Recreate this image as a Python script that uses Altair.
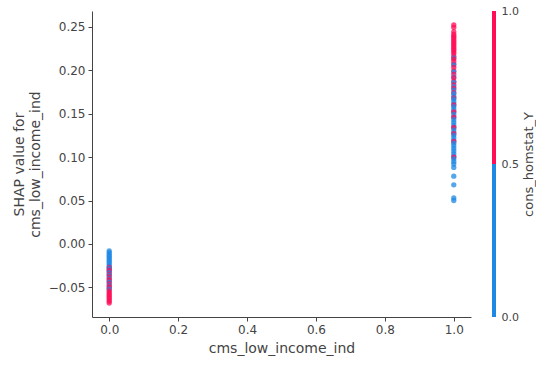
import altair as alt
import pandas as pd

# SHAP values for cms_low_income_ind == 1, split by cons_homstat_Y
x1_red = [0.252, 0.249, 0.244, 0.241, 0.239, 0.237, 0.235, 0.233, 0.231, 0.229,
          0.227, 0.225, 0.223, 0.221, 0.219, 0.216, 0.213, 0.210, 0.207, 0.203,
          0.199, 0.195, 0.191, 0.187, 0.183, 0.179, 0.174, 0.168, 0.160, 0.152,
          0.146, 0.134, 0.127, 0.118, 0.100]
x1_blue = [0.214, 0.206, 0.198, 0.192, 0.186, 0.181, 0.177, 0.173, 0.170, 0.167,
           0.164, 0.161, 0.158, 0.155, 0.152, 0.149, 0.146, 0.143, 0.140, 0.137,
           0.134, 0.131, 0.128, 0.125, 0.122, 0.119, 0.116, 0.113, 0.110, 0.107,
           0.104, 0.101, 0.098, 0.095, 0.092, 0.088, 0.078, 0.068, 0.053, 0.050]
# SHAP values for cms_low_income_ind == 0
x0_red = [-0.027, -0.030, -0.032, -0.035, -0.038, -0.041, -0.043, -0.046, -0.049,
          -0.051, -0.054, -0.056, -0.058, -0.060, -0.062, -0.064, -0.066, -0.068]
x0_blue = [-0.008, -0.010, -0.012, -0.014, -0.016, -0.018, -0.020, -0.022, -0.024,
           -0.026, -0.028, -0.030, -0.033, -0.036, -0.040, -0.044, -0.048, -0.052]

feature_levels = [0, 1]
homstat_levels = [0, 1]
x_ticks = [0.0, 0.2, 0.4, 0.6, 0.8, 1.0]
y_ticks = [-0.05, 0.0, 0.05, 0.10, 0.15, 0.20, 0.25]
cbar_lo = [0.0, 0.5]
cbar_hi = [0.5, 1.0]
cbar_ticks = [0.0, 0.5, 1.0]

BLUE = "#1E88E5"
RED = "#FF0D57"

rows = []
for feat, blue, red in [(feature_levels[0], x0_blue, x0_red),
                        (feature_levels[1], x1_blue, x1_red)]:
    grp = [(v, 0) for v in blue] + [(v, 1) for v in red]
    grp.sort(key=lambda t: -t[0])  # draw from top to bottom so colours mix
    for v, h in grp:
        rows.append({"feature": feat, "shap": v, "homstat": h})
df = pd.DataFrame(rows)

cdf = pd.DataFrame({"lo": cbar_lo, "hi": cbar_hi, "level": homstat_levels})

FONT = "DejaVu Sans"
GRAY = "#444444"

points = alt.Chart(df).mark_circle(size=28, opacity=0.75).encode(
    x=alt.X("feature:Q",
            scale=alt.Scale(domain=[-0.05, 1.05], nice=False, zero=False),
            axis=alt.Axis(values=x_ticks, format=".1f", title="cms_low_income_ind",
                          grid=False, titlePadding=6)),
    y=alt.Y("shap:Q",
            scale=alt.Scale(domain=[-0.084, 0.268], nice=False, zero=False),
            axis=alt.Axis(values=y_ticks, format=".2f",
                          title=["SHAP value for", "cms_low_income_ind"],
                          grid=False, titlePadding=6)),
    color=alt.Color("homstat:N",
                    scale=alt.Scale(domain=homstat_levels, range=[BLUE, RED]),
                    legend=None),
    order=alt.Order("idx:Q"),
).transform_window(idx="row_number()").properties(width=379, height=306)

cbar = alt.Chart(cdf).mark_rect().encode(
    y=alt.Y("lo:Q", scale=alt.Scale(domain=[0, 1], nice=False),
            axis=alt.Axis(orient="right", values=cbar_ticks, format=".1f",
                          title="cons_homstat_Y", titleAngle=270,
                          titleBaseline="top",
                          domain=False, ticks=False, grid=False,
                          labelFontSize=11, titleFontSize=13,
                          labelPadding=5, titlePadding=4)),
    y2="hi:Q",
    color=alt.Color("level:N",
                    scale=alt.Scale(domain=homstat_levels, range=[BLUE, RED]),
                    legend=None),
).properties(width=4, height=306)

chart = alt.hconcat(points, cbar, spacing=21).resolve_scale(color="independent").properties(
    padding={"left": 12, "top": 5, "right": 0, "bottom": 2}
).configure_view(stroke=None).configure_axis(
    labelFont=FONT, titleFont=FONT, labelFontSize=12, titleFontSize=14,
    labelColor=GRAY, titleColor=GRAY, domainColor=GRAY, tickColor=GRAY,
    titleFontWeight="normal", tickSize=4, labelPadding=3,
)

chart.save("out.html", embed_options={"renderer": "svg", "actions": False})
